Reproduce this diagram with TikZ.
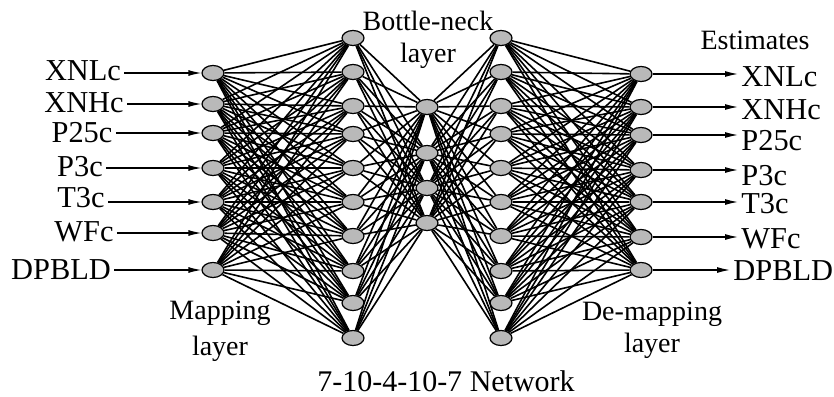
\documentclass[tikz,border=0pt]{standalone}
\usepackage{fontspec}
\setmainfont{Liberation Serif}
\usetikzlibrary{arrows.meta,shapes.geometric}

\begin{document}
\begin{tikzpicture}[x=0.5pt,y=-0.5pt,>={Latex[length=6.5pt,width=3pt]},
		unit/.style={ellipse,draw,line width=0.6pt,fill=gray!55,minimum width=11pt,minimum height=7.5pt,inner sep=0pt},
		link/.style={line width=0.8pt},
		var/.style={inner xsep=1.5pt,inner ysep=0pt,text depth=0pt,font=\fontsize{15.2}{18}\selectfont},
		note/.style={inner sep=0pt,align=center,font=\fontsize{14}{17}\selectfont}]
			\useasboundingbox (0,0) rectangle (834,396);
			
			% the five layers
			\foreach \y [count=\i] in {73,104,133,168,202,233,270}
				\node[unit] (in\i) at (213,\y) {};
			\foreach \y [count=\i] in {38,72,106,134,168,202,236,271,303,338}
				\node[unit] (map\i) at (353,\y) {};
			\foreach \y [count=\i] in {107,153,188,223}
				\node[unit] (bn\i) at (427,\y) {};
			\foreach \y [count=\i] in {38,72,106,134,168,202,236,271,303,338}
				\node[unit] (demap\i) at (501,\y) {};
			\foreach \y [count=\i] in {74,107,135,170,202,237,270}
				\node[unit] (out\i) at (641,\y) {};
			
			% fully connected weights
			\foreach \i in {1,...,7}
				\foreach \j in {1,...,10}
					\draw[link] (in\i) -- (map\j);
			\foreach \i in {1,...,10}
				\foreach \j in {1,...,4}
					\draw[link] (map\i) -- (bn\j) (bn\j) -- (demap\i);
			\foreach \i in {1,...,10}
				\foreach \j in {1,...,7}
					\draw[link] (demap\i) -- (out\j);
			
			% inputs
			\foreach \t/\x/\y [count=\i] in {XNLc/83/71,XNHc/84/103,P25c/82/132,P3c/80/166,T3c/81/197,WFc/84/232,DPBLD/61/270}
			{
				\node[var] (x\i) at (\x,\y) {\t};
				\draw[->,line width=0.6pt] (x\i.east |- in\i) -- (in\i);
			}
			
			% estimates
			\foreach \t/\y [count=\i] in {XNLc/77,XNHc/110,P25c/140,P3c/175,T3c/203,WFc/239,DPBLD/271}
			{
				\node[var,anchor=west] (e\i) at ({\i==7 ? 730 : 738},\y) {\t};
				\draw[->,line width=0.6pt] (out\i) -- (e\i.west |- out\i);
			}
			
			\node[note] (bneck) at (428,40) {Bottle-neck\\[-1pt]layer};
			\node[note] (est) at (755,40) {Estimates};
			\node[note] (mapl) at (220,331) {Mapping\\[1pt]layer};
			\node[note] (demapl) at (652,330) {De-mapping\\[-1pt]layer};
			\node[font=\fontsize{15}{18}\selectfont] (title) at (446,381) {7-10-4-10-7 Network};
		\end{tikzpicture}
\end{document}
